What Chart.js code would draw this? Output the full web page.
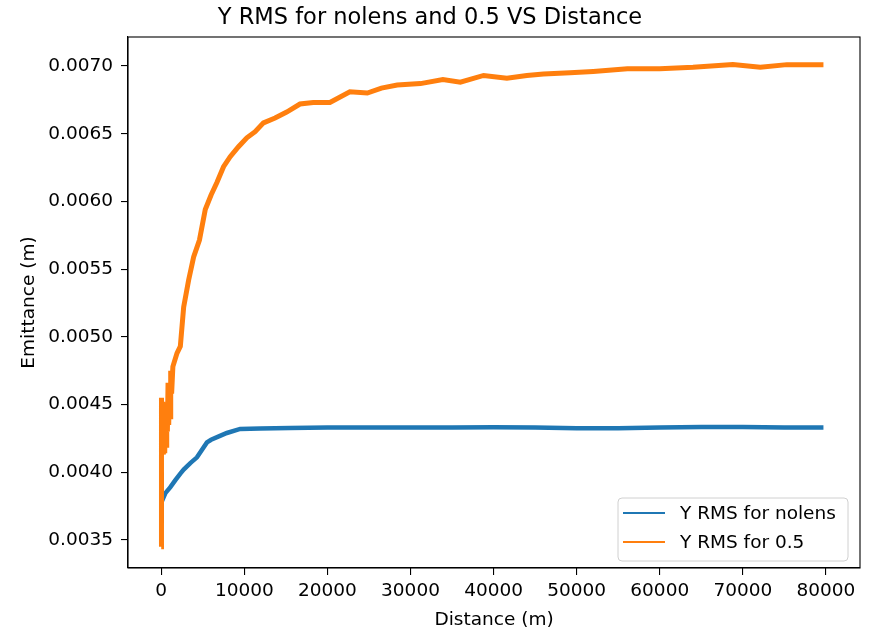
<!DOCTYPE html>
<html lang="en">
<head>
    <meta charset="UTF-8">
    <title>Y RMS for nolens and 0.5 VS Distance</title>
    <script src="https://cdn.jsdelivr.net/npm/chart.js"></script>
    <style>
        body {
            margin: 0;
            background-color: white;
        }
        .chart-box {
            width: 870px;
            height: 633px;
        }
    </style>
</head>
<body>
    <div class="chart-box">
        <canvas id="rmsChart"></canvas>
    </div>

    <script>
        // data
        const nolensX = [0, 20, 60, 500, 1100, 1700, 2300, 2700, 3500, 4300, 5500, 6000, 7000, 7900, 9500, 11900, 15500,
            20000, 25000, 30000, 35000, 40000, 45000, 50000, 55000, 60000, 65000, 70000, 75000, 79700];
        const nolensY = [0.00364, 0.00400, 0.00378, 0.003846, 0.00389, 0.003942, 0.00399, 0.00402, 0.004068, 0.00411,
            0.00422, 0.00424, 0.004267, 0.00429, 0.00432, 0.004323, 0.004326,
            0.00433, 0.00433, 0.00433, 0.00433, 0.004332, 0.00433, 0.004325, 0.004325, 0.00433, 0.004335, 0.004335, 0.00433, 0.00433];

        const halfX = [0, 30, 100, 180, 260, 340, 420, 500, 580, 660, 740, 820, 900, 980, 1060, 1140, 1250, 1400,
            1900, 2300, 2700, 3300, 3900, 4600, 5300, 6000, 6700, 7500, 8300, 9300, 10300, 11300, 12300, 13700,
            15100, 16700, 18300, 20300, 22700, 24800, 26500, 28400, 31200, 33900, 36000, 38800, 41600, 44000,
            46000, 49200, 52000, 56100, 60000, 64000, 68800, 72100, 75300, 79700];
        const halfY = [0.00345, 0.00455, 0.00420, 0.00452, 0.00413, 0.00450, 0.00414, 0.00448, 0.00420, 0.00446,
            0.00430, 0.00466, 0.00435, 0.00465, 0.00441, 0.00475, 0.00458, 0.00478,
            0.00488, 0.00493, 0.00522, 0.00542, 0.00559, 0.005715, 0.00594, 0.006047, 0.00614, 0.006256, 0.00633,
            0.006404, 0.00647, 0.006515, 0.00658, 0.006616,
            0.00666, 0.006719, 0.00673, 0.00673, 0.00681, 0.00680, 0.006837, 0.00686, 0.00687, 0.00690, 0.00688,
            0.00693, 0.00691, 0.00693, 0.00694, 0.00695, 0.00696, 0.00698, 0.00698, 0.00699, 0.00701, 0.00699,
            0.00701, 0.00701];

        const xTicks = [0, 10000, 20000, 30000, 40000, 50000, 60000, 70000, 80000];
        const yTicks = [0.0035, 0.0040, 0.0045, 0.0050, 0.0055, 0.0060, 0.0065, 0.0070];

        const toPoints = (xs, ys) => xs.map((x, i) => ({ x: x, y: ys[i] }));

        const FONT = 'DejaVu Sans';

        // matplotlib style frame + legend box inside the axes
        const mplFrame = {
            id: 'mplFrame',
            afterDraw(chart) {
                const ctx = chart.ctx;
                const a = chart.chartArea;
                ctx.save();
                ctx.strokeStyle = '#000';
                ctx.lineWidth = 1.1;
                ctx.strokeRect(a.left, a.top, a.right - a.left, a.bottom - a.top);

                // legend
                const w = 230, h = 63;
                const lx = a.right - 12 - w;
                const ly = a.bottom - 7 - h;
                ctx.beginPath();
                ctx.roundRect(lx, ly, w, h, 4);
                ctx.fillStyle = 'rgba(255,255,255,0.8)';
                ctx.fill();
                ctx.strokeStyle = '#d0d0d0';
                ctx.lineWidth = 1;
                ctx.stroke();
                ctx.font = '18.5px "' + FONT + '"';
                ctx.textBaseline = 'middle';
                chart.data.datasets.forEach((ds, i) => {
                    const y = ly + 15 + i * 29;
                    ctx.beginPath();
                    ctx.moveTo(lx + 5, y);
                    ctx.lineTo(lx + 47, y);
                    ctx.strokeStyle = ds.borderColor;
                    ctx.lineWidth = 2.2;
                    ctx.stroke();
                    ctx.fillStyle = '#000';
                    ctx.fillText(ds.label, lx + 62, y + 1);
                });
                ctx.restore();
            }
        };

        const ctx = document.getElementById('rmsChart').getContext('2d');
        new Chart(ctx, {
            type: 'line',
            data: {
                datasets: [{
                    label: 'Y RMS for nolens',
                    data: toPoints(nolensX, nolensY),
                    borderColor: '#1f77b4',
                    borderWidth: 4.5,
                    pointRadius: 0,
                    tension: 0,
                    order: 1
                },
                {
                    label: 'Y RMS for 0.5',
                    data: toPoints(halfX, halfY),
                    borderColor: '#ff7f0e',
                    borderWidth: 5,
                    pointRadius: 0,
                    tension: 0,
                    order: 0
                }]
            },
            options: {
                responsive: true,
                maintainAspectRatio: false,
                animation: false,
                layout: {
                    padding: { left: 0, right: 10, top: 0, bottom: 0 }
                },
                plugins: {
                    legend: { display: false },
                    tooltip: { enabled: false },
                    title: {
                        display: true,
                        text: 'Y RMS for nolens and 0.5 VS Distance',
                        color: '#000',
                        font: { family: FONT, size: 22.5, weight: 'normal' },
                        padding: { top: 5, bottom: 5 }
                    }
                },
                scales: {
                    x: {
                        type: 'linear',
                        min: -4000,
                        max: 84100,
                        afterBuildTicks: (scale) => { scale.ticks = xTicks.map(v => ({ value: v })); },
                        afterFit: (scale) => { scale.height = 65; },
                        grid: { drawOnChartArea: false, tickLength: 7, color: '#000', lineWidth: 1.1 },
                        border: { color: '#000', width: 1.1 },
                        ticks: {
                            color: '#000',
                            padding: 5,
                            maxRotation: 0,
                            font: { family: FONT, size: 18.5 },
                            callback: (v) => String(v)
                        },
                        title: {
                            display: true,
                            text: 'Distance (m)',
                            color: '#000',
                            font: { family: FONT, size: 18.5 },
                            padding: { top: 0, bottom: 2 }
                        }
                    },
                    y: {
                        type: 'linear',
                        min: 0.003293,
                        max: 0.007214,
                        afterBuildTicks: (scale) => { scale.ticks = yTicks.map(v => ({ value: v })); },
                        afterFit: (scale) => { scale.width = 128; },
                        grid: { drawOnChartArea: false, tickLength: 7, color: '#000', lineWidth: 1.1 },
                        border: { color: '#000', width: 1.1 },
                        ticks: {
                            color: '#000',
                            padding: 8,
                            font: { family: FONT, size: 18.5 },
                            callback: (v) => v.toFixed(4)
                        },
                        title: {
                            display: true,
                            text: 'Emittance (m)',
                            color: '#000',
                            font: { family: FONT, size: 18.5 },
                            padding: { top: 18, bottom: 0 }
                        }
                    }
                }
            },
            plugins: [mplFrame]
        });
    </script>
</body>
</html>
